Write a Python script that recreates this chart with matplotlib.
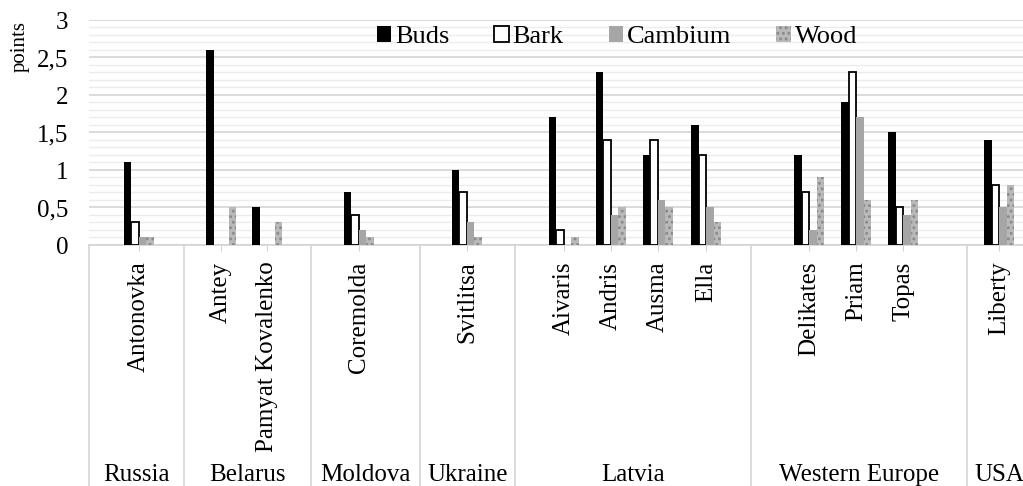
import matplotlib.pyplot as plt
import numpy as np
from matplotlib.transforms import blended_transform_factory

plt.rcParams['font.family'] = ['Liberation Serif', 'DejaVu Serif']
plt.rcParams['hatch.linewidth'] = 1.3

varieties = ['Antonovka', 'Antey', 'Pamyat Kovalenko', 'Coremolda', 'Svitlitsa',
             'Aivaris', 'Andris', 'Ausma', 'Ella', 'Delikates', 'Priam', 'Topas', 'Liberty']
countries = ['Russia', 'Belarus', 'Moldova', 'Ukraine', 'Latvia', 'Western Europe', 'USA']

buds    = [1.1, 2.6, 0.5, 0.7, 1.0, 1.7, 2.3, 1.2, 1.6, 1.2, 1.9, 1.5, 1.4]
bark    = [0.3, 0.0, 0.0, 0.4, 0.7, 0.2, 1.4, 1.4, 1.2, 0.7, 2.3, 0.5, 0.8]
cambium = [0.1, 0.0, 0.0, 0.2, 0.3, 0.0, 0.4, 0.6, 0.5, 0.2, 1.7, 0.4, 0.5]
wood    = [0.1, 0.5, 0.3, 0.1, 0.1, 0.1, 0.5, 0.5, 0.3, 0.9, 0.6, 0.6, 0.8]

# layout: category centres and group borders on the x axis (slot units)
xpos = np.array([1.06, 2.81, 3.79, 5.74, 8.04, 10.1, 11.1, 12.1, 13.13, 15.32, 16.32, 17.32, 19.36])
borders = [0, 2.02, 4.72, 7.04, 9.06, 14.09, 18.68, 20.04]

W, H = 1023, 486
fig = plt.figure(figsize=(W / 100, H / 100), dpi=100)
ax = fig.add_axes([89 / W, (H - 245) / H, (1031 - 89) / W, 225 / H])

bw = 0.16
ax.bar(xpos - 1.5 * bw, buds, bw, color='black', label='Buds', zorder=3)
bark_edges = ['black' if v > 0 else 'none' for v in bark]
ax.bar(xpos - 0.5 * bw, bark, bw, color='white', edgecolor=bark_edges, linewidth=1.3, label='Bark', zorder=3)
ax.bar(xpos + 0.5 * bw, cambium, bw, color='#a6a6a6', label='Cambium', zorder=3)
ax.bar(xpos + 1.5 * bw, wood, bw, color='#b9b9b9', hatch='...', edgecolor='#8a8a8a', linewidth=0, label='Wood', zorder=3)

ax.set_xlim(borders[0], borders[-1])
ax.set_ylim(0, 3)
ax.set_yticks(np.arange(0, 3.01, 0.5))
ax.set_yticks(np.arange(0, 3.01, 0.1), minor=True)
ax.set_yticklabels([('%g' % v).replace('.', ',') for v in np.arange(0, 3.01, 0.5)], fontsize=18)
ax.grid(axis='y', which='major', color='#d4d4d4', linewidth=1.2, zorder=0)
ax.grid(axis='y', which='minor', color='#ececec', linewidth=1.0, zorder=0)
ax.tick_params(axis='y', which='both', length=0, pad=15)

ax.set_xticks(xpos)
ax.set_xticklabels(varieties, rotation=90, fontsize=18)
ax.tick_params(axis='x', length=4, color='#d4d4d4', pad=8)

for s in ['top', 'right', 'left']:
    ax.spines[s].set_visible(False)
ax.spines['bottom'].set_color('#d4d4d4')
ax.spines['bottom'].set_linewidth(1.2)

trans = blended_transform_factory(ax.transData, ax.transAxes)
ax.vlines(borders[:-1], -1.1, 0, transform=trans, color='#d4d4d4', linewidth=1.2, clip_on=False)
for i, c in enumerate(countries):
    xm = (borders[i] + borders[i + 1]) / 2
    ax.text(xm, -1.02, c, transform=trans, ha='center', va='center', fontsize=18)

fig.text(20 / W, 1 - 46 / H, 'points', rotation=90, ha='center', va='center', fontsize=15)

fig.legend(loc='center', bbox_to_anchor=(0.603, 0.924), ncol=4, frameon=False, fontsize=19,
           handlelength=0.55, handleheight=0.55, handletextpad=0.15, columnspacing=1.7)

fig.savefig('out.png', dpi=100)
